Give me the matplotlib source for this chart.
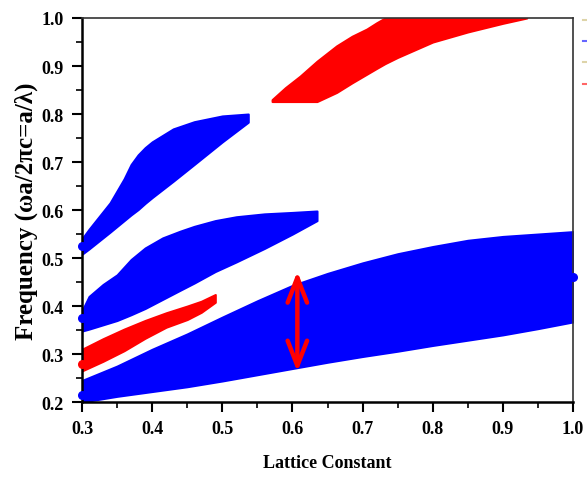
import numpy as np
import matplotlib.pyplot as plt
from matplotlib.lines import Line2D
from matplotlib.ticker import MultipleLocator

# band edges (lattice constant vs normalised frequency)
b1_x = [0.30, 0.35, 0.40, 0.45, 0.50, 0.55, 0.60, 0.65, 0.70, 0.75, 0.80, 0.85, 0.90, 0.95, 1.00]
b1_lo = [0.200, 0.212, 0.222, 0.232, 0.244, 0.257, 0.270, 0.283, 0.295, 0.306, 0.318, 0.329, 0.340, 0.353, 0.367]
b1_hi = [0.245, 0.275, 0.310, 0.342, 0.377, 0.411, 0.443, 0.468, 0.490, 0.509, 0.524, 0.537, 0.545, 0.550, 0.555]

b2_x = [0.30, 0.31, 0.33, 0.35, 0.37, 0.39, 0.415, 0.44, 0.46, 0.49, 0.52, 0.56, 0.60, 0.635]
b2_lo = [0.348, 0.352, 0.361, 0.370, 0.382, 0.395, 0.414, 0.433, 0.448, 0.472, 0.492, 0.520, 0.550, 0.578]
b2_hi = [0.390, 0.420, 0.445, 0.465, 0.497, 0.521, 0.542, 0.556, 0.566, 0.578, 0.586, 0.592, 0.595, 0.598]

b3_x = [0.30, 0.31, 0.34, 0.36, 0.37, 0.38, 0.39, 0.40, 0.43, 0.46, 0.50, 0.537]
b3_lo = [0.508, 0.519, 0.554, 0.578, 0.590, 0.601, 0.614, 0.626, 0.660, 0.695, 0.742, 0.783]
b3_hi = [0.540, 0.560, 0.615, 0.665, 0.695, 0.715, 0.730, 0.742, 0.769, 0.784, 0.796, 0.800]

r1_x = [0.30, 0.33, 0.36, 0.39, 0.42, 0.45, 0.47, 0.49]
r1_lo = [0.265, 0.285, 0.307, 0.333, 0.356, 0.372, 0.387, 0.408]
r1_hi = [0.310, 0.332, 0.352, 0.370, 0.386, 0.400, 0.410, 0.424]

r2_x = [0.571, 0.59, 0.611, 0.635, 0.663, 0.685, 0.706, 0.72, 0.732, 0.75, 0.80, 0.85, 0.90, 0.934]
r2_lo = [0.826, 0.826, 0.826, 0.826, 0.845, 0.865, 0.883, 0.895, 0.905, 0.918, 0.950, 0.971, 0.989, 1.000]
r2_hi = [0.830, 0.855, 0.879, 0.910, 0.942, 0.962, 0.977, 0.990, 1.000, 1.000, 1.000, 1.000, 1.000, 1.000]

# end dots of the bands
dot_x = [0.3, 0.3, 0.3, 1.0]
dot_y = [0.215, 0.375, 0.525, 0.46]
rdot_x = [0.3]
rdot_y = [0.28]

# gap arrow
arrow_x = 0.607
arrow_y = [0.263, 0.472]

blue = '#0000ff'
red = '#ff0000'

plt.rcParams['font.family'] = 'Liberation Serif'
plt.rcParams['font.weight'] = 'bold'

fig = plt.figure(figsize=(5.87, 4.81), dpi=100)
ax = fig.add_axes([0.1397, 0.162, 0.8365, 0.7985])

for x, lo, hi in [(b1_x, b1_lo, b1_hi), (b2_x, b2_lo, b2_hi), (b3_x, b3_lo, b3_hi)]:
    ax.fill_between(x, lo, hi, facecolor=blue, edgecolor=blue, lw=1.5, joinstyle='round')
for x, lo, hi in [(r1_x, r1_lo, r1_hi), (r2_x, r2_lo, r2_hi)]:
    ax.fill_between(x, lo, hi, facecolor=red, edgecolor=red, lw=1.5, joinstyle='round')

ax.scatter(dot_x, dot_y, s=30, color=blue, clip_on=False, zorder=3)
ax.scatter(rdot_x, rdot_y, s=30, color=red, clip_on=False, zorder=3)

ax.annotate('', xy=(arrow_x, arrow_y[1]), xytext=(arrow_x, arrow_y[0]),
            arrowprops=dict(arrowstyle='<->,head_length=0.9,head_width=0.35',
                            mutation_scale=20, color=red, lw=3.2,
                            shrinkA=0, shrinkB=0, capstyle='round'))

ax.set_xlim(0.3, 1.0)
ax.set_ylim(0.2, 1.0)
ax.set_xticks(np.arange(0.3, 1.01, 0.1))
ax.set_xticklabels(['0.3', '0.4', '0.5', '0.6', '0.7', '0.8', '0.9', '1.0'])
ax.set_yticks(np.arange(0.2, 1.01, 0.1))
ax.set_yticklabels(['0.2', '0.3', '0.4', '0.5', '0.6', '0.7', '0.8', '0.9', '1.0'])
ax.xaxis.set_minor_locator(MultipleLocator(0.05))
ax.yaxis.set_minor_locator(MultipleLocator(0.05))
ax.tick_params(which='major', direction='out', length=7, width=1.5, labelsize=13, pad=6)
ax.tick_params(which='minor', direction='out', length=4, width=1.2)
ax.tick_params(which='both', top=False, right=False)

ax.spines['left'].set_linewidth(1.8)
ax.spines['bottom'].set_linewidth(1.8)
ax.spines['top'].set_linewidth(1.2)
ax.spines['right'].set_linewidth(1.2)
ax.spines['top'].set_color('#333333')
ax.spines['right'].set_color('#333333')

ax.set_xlabel('Lattice Constant', fontsize=13, fontweight='bold', labelpad=12)
ax.set_ylabel('Frequency (\u03c9a/2\u03c0c=a/\u03bb)', fontsize=18, fontweight='bold', labelpad=3)

# slivers of a legend cut off at the right edge of the original
for yy, cc in [(0.956, '#c8b870'), (0.912, blue), (0.868, '#c8b870'), (0.823, red)]:
    fig.add_artist(Line2D([0.993, 1.0], [yy, yy], color=cc, lw=1.5, alpha=0.6))

fig.savefig('out.png', dpi=100, facecolor='white')
